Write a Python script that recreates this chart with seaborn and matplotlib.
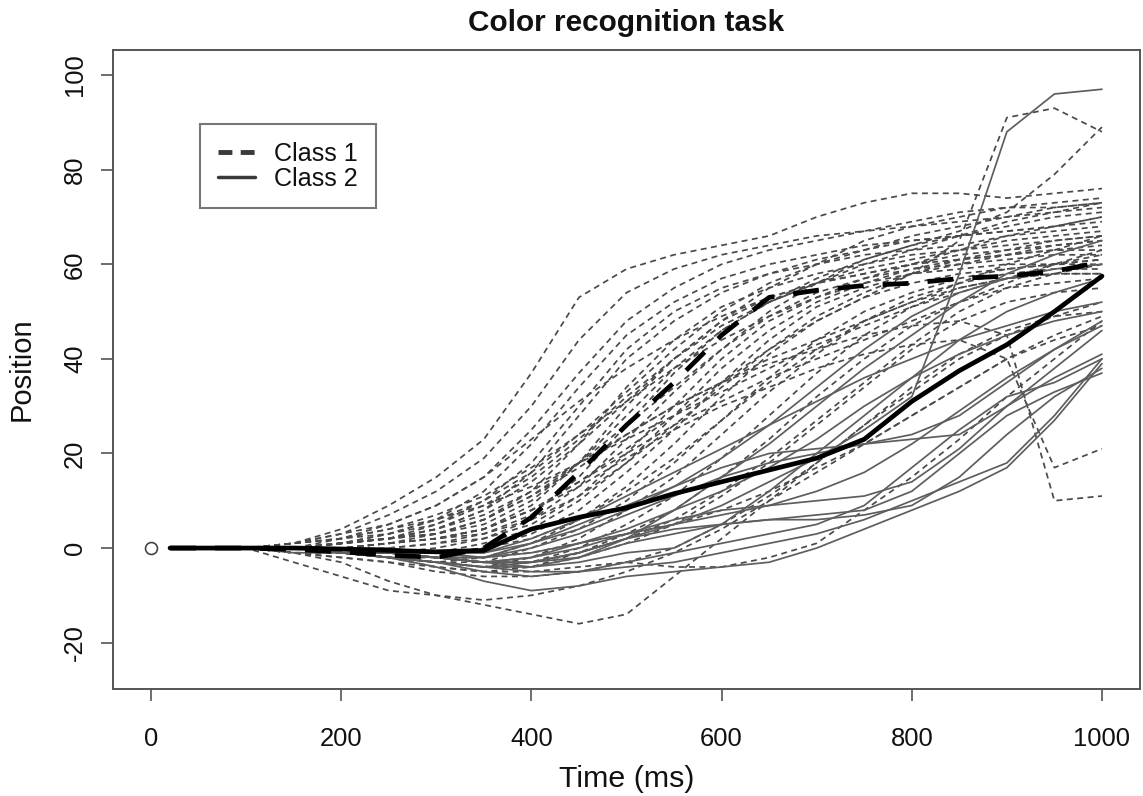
import matplotlib
matplotlib.use("Agg")
import matplotlib.pyplot as plt
import seaborn as sns
import pandas as pd
from matplotlib import font_manager as fm
from matplotlib.lines import Line2D

# ---------------- data ----------------
TIME = [20, 100, 150, 200, 250, 300, 350, 400, 450, 500,
        550, 600, 650, 700, 750, 800, 850, 900, 950, 1000]

CLASS1_TRAJ = [
    [0, 0, 1, 4, 9, 15, 23, 37, 53, 59, 62, 64, 66, 70, 73, 75, 75, 74, 75, 76],
    [0, 0, 1, 3, 7, 12, 19, 30, 44, 54, 59, 62, 64, 66, 67, 69, 71, 72, 72, 73],
    [0, 0, 0, 2, 5, 9, 15, 25, 37, 48, 55, 60, 63, 65, 67, 68, 69, 70, 71, 72],
    [0, 0, 0, 1, 3, 6, 12, 22, 34, 45, 52, 57, 60, 62, 64, 65, 66, 67, 68, 69],
    [0, 0, 0, 1, 2, 5, 10, 18, 30, 42, 50, 55, 58, 60, 62, 63, 64, 66, 67, 68],
    [0, 0, 0, 1, 2, 4, 8, 16, 28, 40, 48, 54, 58, 61, 63, 65, 66, 67, 68, 70],
    [0, 0, 0, 1, 2, 3, 6, 12, 22, 34, 44, 51, 55, 58, 60, 62, 63, 64, 65, 66],
    [0, 0, 0, 0, 1, 2, 4, 9, 18, 30, 40, 48, 53, 56, 58, 60, 61, 62, 63, 64],
    [0, 0, 0, 0, 1, 2, 3, 7, 15, 26, 37, 46, 52, 56, 59, 61, 63, 65, 66, 67],
    [0, 0, 0, -1, -1, 0, 2, 6, 13, 23, 33, 42, 49, 54, 57, 59, 60, 61, 62, 62],
    [0, 0, 0, 0, 0, 1, 2, 5, 11, 20, 30, 40, 48, 53, 56, 58, 59, 60, 60, 61],
    [0, 0, 0, -1, -1, -1, 1, 4, 10, 18, 28, 38, 46, 52, 56, 59, 61, 62, 63, 63],
    [0, 0, 0, -1, -2, -2, 0, 3, 8, 16, 25, 35, 44, 51, 55, 58, 60, 62, 64, 65],
    [0, 0, -1, -1, -2, -3, -2, 1, 6, 13, 22, 32, 41, 48, 53, 56, 58, 59, 60, 60],
    [0, 0, 0, -1, -2, -3, -3, 0, 4, 10, 18, 27, 36, 44, 50, 54, 57, 59, 60, 61],
    [0, 0, 0, -1, -2, -3, -4, -2, 2, 8, 15, 24, 33, 41, 48, 53, 56, 58, 59, 59],
    [0, 0, 0, -1, -2, -3, -4, -3, 0, 5, 11, 19, 28, 37, 45, 51, 55, 57, 58, 58],
    [0, 0, -1, -1, -2, -4, -5, -4, -1, 3, 8, 15, 23, 32, 40, 47, 52, 55, 56, 57],
    [0, 0, 0, -1, -2, -3, -4, -4, -2, 1, 5, 11, 18, 26, 34, 42, 48, 52, 54, 55],
    [0, 0, 0, -1, -1, -2, -3, -3, -1, 2, 6, 12, 19, 27, 35, 43, 50, 55, 58, 60],
    [0, 0, -1, -2, -3, -5, -6, -6, -5, -3, 0, 5, 11, 18, 26, 34, 41, 46, 49, 50],
    [0, 0, -1, -3, -7, -10, -12, -14, -16, -14, -6, 2, 10, 18, 26, 33, 40, 45, 49, 52],
    [0, 0, -3, -6, -9, -10, -11, -10, -8, -5, -1, 4, 10, 16, 22, 28, 34, 40, 45, 49],
    [0, 0, -1, -2, -3, -4, -5, -5, -4, -3, -4, -4, -2, 1, 8, 15, 23, 32, 40, 48],
    [0, 0, 0, -1, -1, -2, -2, -1, 1, 3, 5, 8, 12, 17, 22, 28, 34, 40, 44, 47],
    [0, 0, 0, 0, 1, 2, 4, 8, 14, 20, 26, 31, 36, 40, 44, 48, 52, 56, 60, 63],
    [0, 0, 0, 1, 2, 4, 7, 12, 18, 24, 30, 35, 40, 44, 48, 52, 56, 60, 63, 66],
    [0, 0, 1, 2, 4, 7, 11, 17, 24, 31, 38, 44, 49, 53, 57, 60, 63, 66, 68, 70],
    [0, 0, 1, 2, 3, 5, 9, 15, 23, 32, 40, 47, 52, 56, 60, 63, 66, 69, 71, 73],
    [0, 0, 0, 1, 2, 4, 8, 14, 22, 31, 40, 48, 55, 60, 65, 68, 70, 72, 73, 74],
    [0, 0, 0, 0, 1, 2, 4, 8, 14, 21, 28, 35, 42, 48, 53, 58, 65, 91, 93, 88],
    [0, 0, 0, 1, 2, 3, 6, 11, 18, 26, 34, 42, 50, 56, 61, 64, 67, 71, 79, 89],
    [0, 0, 0, 0, 1, 3, 6, 11, 17, 24, 30, 35, 39, 42, 45, 47, 48, 45, 10, 11],
    [0, 0, 0, 0, 1, 2, 4, 8, 13, 19, 25, 30, 34, 38, 41, 43, 44, 40, 17, 21],
    [0, 0, 0, 1, 3, 6, 10, 16, 24, 33, 42, 50, 56, 60, 63, 66, 68, 70, 72, 73],
    [0, 0, 0, 1, 2, 3, 5, 10, 18, 28, 38, 46, 52, 57, 61, 64, 66, 68, 70, 71],
    [0, 0, 0, 0, 0, 1, 3, 6, 11, 18, 26, 34, 42, 49, 54, 58, 61, 63, 65, 66],
    [0, 0, 0, -1, -1, -1, 0, 2, 6, 12, 19, 27, 35, 42, 48, 52, 55, 57, 58, 58],
    [0, 0, 1, 2, 4, 6, 9, 13, 18, 23, 28, 33, 38, 43, 47, 51, 54, 57, 60, 62],
    [0, 0, 1, 3, 5, 9, 15, 23, 31, 38, 44, 49, 53, 56, 58, 60, 62, 63, 64, 65],
]

CLASS2_TRAJ = [
    [0, 0, 0, -1, -2, -4, -7, -9, -8, -6, -5, -4, -3, 0, 4, 8, 12, 17, 27, 39],
    [0, 0, 0, -1, -2, -3, -5, -6, -5, -3, -1, 1, 3, 5, 9, 17, 25, 32, 35, 40],
    [0, 0, 0, -1, -1, -2, -3, -4, -2, 1, 3, 5, 6, 6, 7, 9, 15, 24, 32, 38],
    [0, 0, 0, 0, -1, -2, -3, -3, -1, 2, 4, 5, 6, 7, 8, 12, 20, 28, 33, 37],
    [0, 0, 0, -1, -1, -2, -3, -2, 0, 3, 6, 8, 9, 10, 11, 14, 21, 30, 36, 41],
    [0, 0, 0, 0, -1, -1, -2, 0, 3, 7, 11, 15, 18, 20, 22, 23, 24, 30, 38, 46],
    [0, 0, 0, -1, -1, -2, -2, 1, 5, 9, 13, 17, 20, 21, 22, 24, 28, 35, 42, 48],
    [0, 0, 0, -1, -2, -3, -4, -3, -1, 2, 5, 9, 14, 19, 25, 32, 58, 88, 96, 97],
    [0, 0, 0, -1, -1, -2, -3, -3, -2, 2, 8, 15, 22, 30, 38, 45, 52, 58, 62, 65],
    [0, 0, 0, -1, -2, -3, -4, -4, -3, -1, 0, 5, 12, 20, 28, 36, 44, 50, 54, 57],
    [0, 0, 0, 0, -1, -1, -1, 2, 6, 11, 16, 21, 26, 31, 36, 40, 44, 47, 50, 52],
    [0, 0, 0, -1, -1, -2, -3, -2, 1, 4, 8, 12, 17, 23, 30, 36, 41, 45, 48, 50],
    [0, 0, 0, 0, 0, -1, -1, 1, 4, 8, 13, 19, 26, 34, 42, 49, 54, 57, 59, 60],
    [0, 0, -1, -1, -2, -3, -4, -5, -5, -4, -3, -1, 1, 3, 6, 10, 14, 18, 28, 40],
    [0, 0, 0, -1, -1, -2, -2, -1, 1, 3, 5, 7, 9, 12, 16, 22, 29, 36, 42, 47],
]

MEAN_CLASS1 = [0, 0, -0.3, -0.8, -1.5, -2, 0, 6.5, 16, 26, 35, 45, 53, 54.5,
               55.5, 56, 57, 57.5, 58.5, 60.5]
MEAN_CLASS2 = [0, 0, 0, -0.2, -0.5, -0.8, -0.5, 4, 6.5, 8.5, 11.5, 14, 16.5, 19,
               23, 31, 37.5, 43, 50, 57.5]

ORIGIN_T = [0]
ORIGIN_POS = [0]

XTICKS = [0, 200, 400, 600, 800, 1000]
YTICKS = [-20, 0, 20, 40, 60, 80, 100]
YTICK_LABELS = ["-20", "0", "20", "40", "60", "80", "100"]
LEGEND_LABELS = ["Class 1", "Class 2"]


def to_long(trajs, label):
    rows = []
    for i, tr in enumerate(trajs):
        for t, v in zip(TIME, tr):
            rows.append((label, f"{label}-{i}", t, v))
    return pd.DataFrame(rows, columns=["cls", "id", "time", "pos"])


# ---------------- style ----------------
sns.set_theme(style="white")
names = {f.name for f in fm.fontManager.ttflist}
narrow = "Liberation Sans Narrow" in names
plt.rcParams["font.family"] = ["Liberation Sans Narrow" if narrow else "Liberation Sans",
                               "DejaVu Sans"]
k = 1.0 if narrow else 0.84
plt.rcParams["lines.scale_dashes"] = False
plt.rcParams["axes.unicode_minus"] = False

fig, ax = plt.subplots(figsize=(11.43, 7.96), dpi=100)
fig.subplots_adjust(left=113 / 1143, right=1140 / 1143,
                    bottom=1 - 689 / 796, top=1 - 50 / 796)

d1 = to_long(CLASS1_TRAJ, "Class 1")
d2 = to_long(CLASS2_TRAJ, "Class 2")

sns.lineplot(data=d1, x="time", y="pos", units="id", estimator=None,
             color="#4a4a4a", lw=1.25, linestyle=(0, (4.3, 3.2)),
             ax=ax, legend=False, zorder=2)
sns.lineplot(data=d2, x="time", y="pos", units="id", estimator=None,
             color="#5e5e5e", lw=1.25, ax=ax, legend=False, zorder=2)

dm = pd.DataFrame({"time": TIME * 2,
                   "pos": MEAN_CLASS1 + MEAN_CLASS2,
                   "cls": ["Class 1"] * len(TIME) + ["Class 2"] * len(TIME)})
sns.lineplot(data=dm, x="time", y="pos", style="cls", units="cls", estimator=None,
             dashes={"Class 1": (18.7, 13.7), "Class 2": ""},
             color="black", lw=3.4, ax=ax, legend=False, zorder=4)

ax.plot(ORIGIN_T, ORIGIN_POS, "o", mfc="none", mec="#444444", ms=8.6, mew=1.2, zorder=5)

ax.set_xlim(-40, 1040)
ax.set_ylim(-29.8, 105.3)
ax.set_xticks(XTICKS)
ax.set_xticklabels([str(v) for v in XTICKS])
ax.set_yticks(YTICKS)
ax.set_yticklabels(YTICK_LABELS, rotation=90, va="center")

for sp in ax.spines.values():
    sp.set_color("#555555")
    sp.set_linewidth(1.4)

ax.tick_params(axis="both", bottom=True, left=True, direction="out",
               length=8.6, width=1.2, color="#555555", labelcolor="#111111",
               labelsize=22 * k)
ax.tick_params(axis="x", pad=19)
ax.tick_params(axis="y", pad=10)

ax.set_xlabel("Time (ms)", fontsize=26 * k, color="#111111", labelpad=10)
ax.set_ylabel("Position", fontsize=25 * k, color="#111111", labelpad=20)
ax.set_title("Color recognition task", fontsize=25.5 * k, fontweight="bold",
             color="#111111", pad=14)

handles = [Line2D([], [], color="#3a3a3a", lw=3.5, linestyle=(0, (10, 6))),
           Line2D([], [], color="#3a3a3a", lw=2.5)]
leg = ax.legend(handles, LEGEND_LABELS, loc="upper left",
                bbox_to_anchor=(0.085, 0.884), borderaxespad=0,
                frameon=True, fancybox=False, edgecolor="#555555",
                fontsize=21.5 * k, handlelength=1.5, handletextpad=0.75,
                borderpad=0.7, labelspacing=0.05)
leg.get_frame().set_linewidth(1.5)
for t in leg.get_texts():
    t.set_color("#111111")

fig.savefig("out.png", dpi=100)
